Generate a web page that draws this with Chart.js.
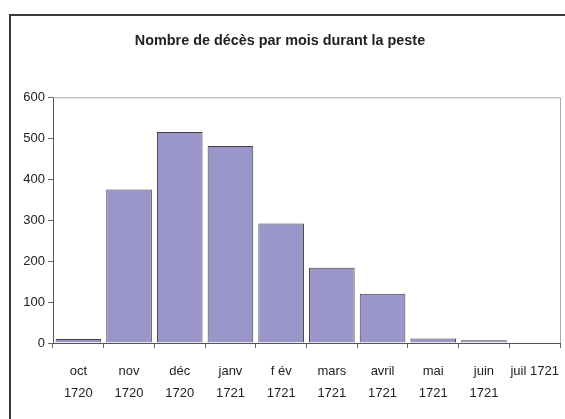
<!DOCTYPE html>
<html>
<head>
<meta charset="utf-8">
<script src="https://cdn.jsdelivr.net/npm/chart.js@4"></script>
<style>
  html, body { margin: 0; padding: 0; background: #fff; }
  #wrap { width: 565px; height: 419px; }
</style>
</head>
<body>
<div id="wrap"><canvas id="peste" width="565" height="419"></canvas></div>
<script>
const mois = [
  ['oct', '1720'], ['nov', '1720'], ['déc', '1720'], ['janv', '1721'], ['f év', '1721'],
  ['mars', '1721'], ['avril', '1721'], ['mai', '1721'], ['juin', '1721'], 'juil 1721'
];
const deces = [10, 375, 515, 481, 292, 184, 120, 11, 7, 0];
const yTicks = [0, 100, 200, 300, 400, 500, 600];

const police = '"Liberation Sans Narrow", "Liberation Sans", Arial, sans-serif';

// cadre extérieur + bordure haute/droite de la zone de traçage
const cadres = {
  id: 'cadres',
  beforeDraw(chart) {
    const ctx = chart.ctx;
    ctx.save();
    ctx.strokeStyle = '#3a3a3a';
    ctx.lineWidth = 2;
    ctx.strokeRect(10, 15, 600, 500);
    ctx.restore();
  },
  afterDatasetsDraw(chart) {
    const { ctx, chartArea: a } = chart;
    ctx.save();
    ctx.strokeStyle = '#b8aaaa';
    ctx.lineWidth = 1;
    ctx.beginPath();
    ctx.moveTo(a.left, a.top + 0.5);
    ctx.lineTo(a.right + 0.5, a.top + 0.5);
    ctx.lineTo(a.right + 0.5, a.bottom);
    ctx.stroke();
    ctx.restore();
  }
};

new Chart(document.getElementById('peste'), {
  type: 'bar',
  data: {
    labels: mois,
    datasets: [{
      data: deces,
      backgroundColor: '#9b96c9',
      borderColor: '#3f3f3f',
      borderWidth: 1,
      barPercentage: 0.9,
      categoryPercentage: 1
    }]
  },
  options: {
    responsive: false,
    animation: false,
    layout: { padding: { left: 0, right: 5, top: 0, bottom: 0 } },
    plugins: {
      legend: { display: false },
      tooltip: { enabled: false },
      title: {
        display: true,
        text: 'Nombre de décès par mois durant la peste',
        color: '#222',
        font: { family: police, size: 14.4, weight: 'bold' },
        padding: { top: 32, bottom: 48 }
      }
    },
    scales: {
      x: {
        offset: true,
        grid: { offset: true, drawOnChartArea: false, tickLength: 5, color: '#666' },
        border: { color: '#555', width: 1 },
        ticks: {
          color: '#222',
          font: { family: police, size: 13, lineHeight: 1.7 },
          maxRotation: 0,
          autoSkip: false,
          padding: 12
        },
        afterFit(s) {
          s.height = 76;
          s.paddingLeft = 0;
          s.paddingRight = 0;
        }
      },
      y: {
        min: 0,
        max: 600,
        afterBuildTicks(s) { s.ticks = yTicks.map(v => ({ value: v })); },
        grid: { drawOnChartArea: false, tickLength: 5, color: '#666' },
        border: { color: '#555', width: 1 },
        ticks: {
          color: '#222',
          font: { family: police, size: 13 },
          padding: 3
        },
        afterFit(s) { s.width = 53; }
      }
    }
  },
  plugins: [cadres]
});
</script>
</body>
</html>
